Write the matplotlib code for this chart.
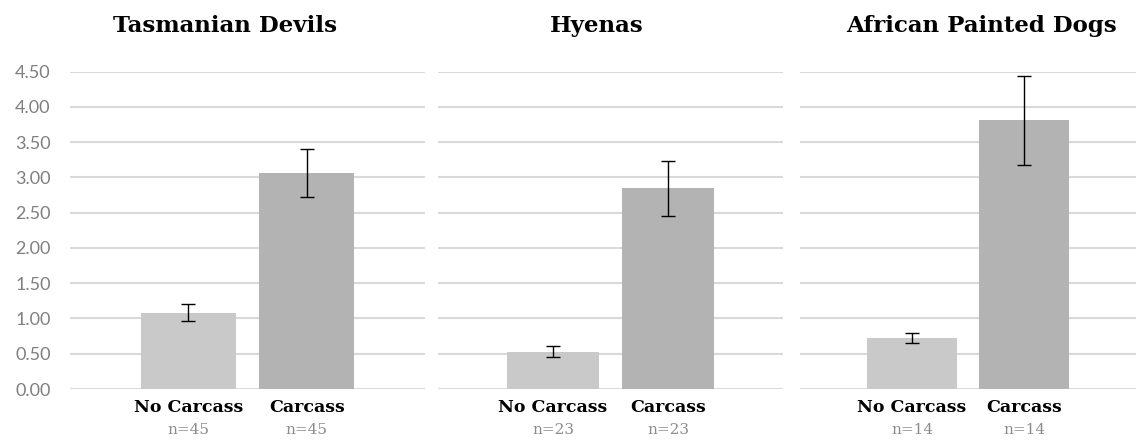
import matplotlib
matplotlib.use("Agg")
import matplotlib.pyplot as plt
from matplotlib.transforms import blended_transform_factory

# data
panels = ["Tasmanian Devils", "Hyenas", "African Painted Dogs"]
categories = ["No Carcass", "Carcass"]
means = [[1.08, 3.06], [0.53, 2.85], [0.72, 3.81]]
errors = [[0.12, 0.34], [0.08, 0.39], [0.07, 0.635]]
sample_sizes = [[45, 45], [23, 23], [14, 14]]
yticks = [0.0, 0.5, 1.0, 1.5, 2.0, 2.5, 3.0, 3.5, 4.0, 4.5]

bar_colors = ["#c9c9c9", "#b3b3b3"]
grid_col = "#d9d9d9"
gray_txt = "#7f7f7f"
serif = "DejaVu Serif"

fig = plt.figure(figsize=(11.36, 4.41), dpi=100)

# axes boxes in pixels (left, width) and title centres
boxes = [(70, 355), (438, 345), (800, 336)]
title_x = [225, 597, 981]
bottom = 1 - 389 / 441
height = (389 - 71.7) / 441

for i, name in enumerate(panels):
    left, w = boxes[i]
    ax = fig.add_axes([left / 1136, bottom, w / 1136, height])
    x = [1, 2]
    ax.bar(x, means[i], width=0.8, color=bar_colors, zorder=2)
    ax.errorbar(x, means[i], yerr=errors[i], fmt="none", ecolor="black",
                elinewidth=1, capsize=5, capthick=1, zorder=3)
    ax.set_xlim(0, 3)
    ax.set_ylim(0, 4.5)
    ax.set_yticks(yticks)
    ax.yaxis.grid(True, color=grid_col, linewidth=1.5, zorder=0)
    ax.set_axisbelow(True)
    for s in ax.spines.values():
        s.set_visible(False)
    ax.tick_params(length=0)
    if i == 0:
        ax.set_yticklabels([f"{v:.2f}" for v in yticks], fontsize=13,
                           color=gray_txt, family="Lato")
        ax.tick_params(axis="y", pad=14)
    else:
        ax.set_yticklabels([])
    ax.set_xticks(x)
    ax.set_xticklabels(categories, fontsize=12.5, fontweight="bold",
                       family=serif)
    ax.tick_params(axis="x", pad=7)
    trans = blended_transform_factory(ax.transData, ax.transAxes)
    for xi, n in zip(x, sample_sizes[i]):
        ax.text(xi, -0.128, f"n={n}", transform=trans, ha="center",
                va="center", fontsize=11, color="#8c8c8c", family=serif)
    fig.text(title_x[i] / 1136, 1 - 26 / 441, name, ha="center", va="center",
             fontsize=16.5, fontweight="bold", family=serif)

fig.savefig("out.png", dpi=100)
